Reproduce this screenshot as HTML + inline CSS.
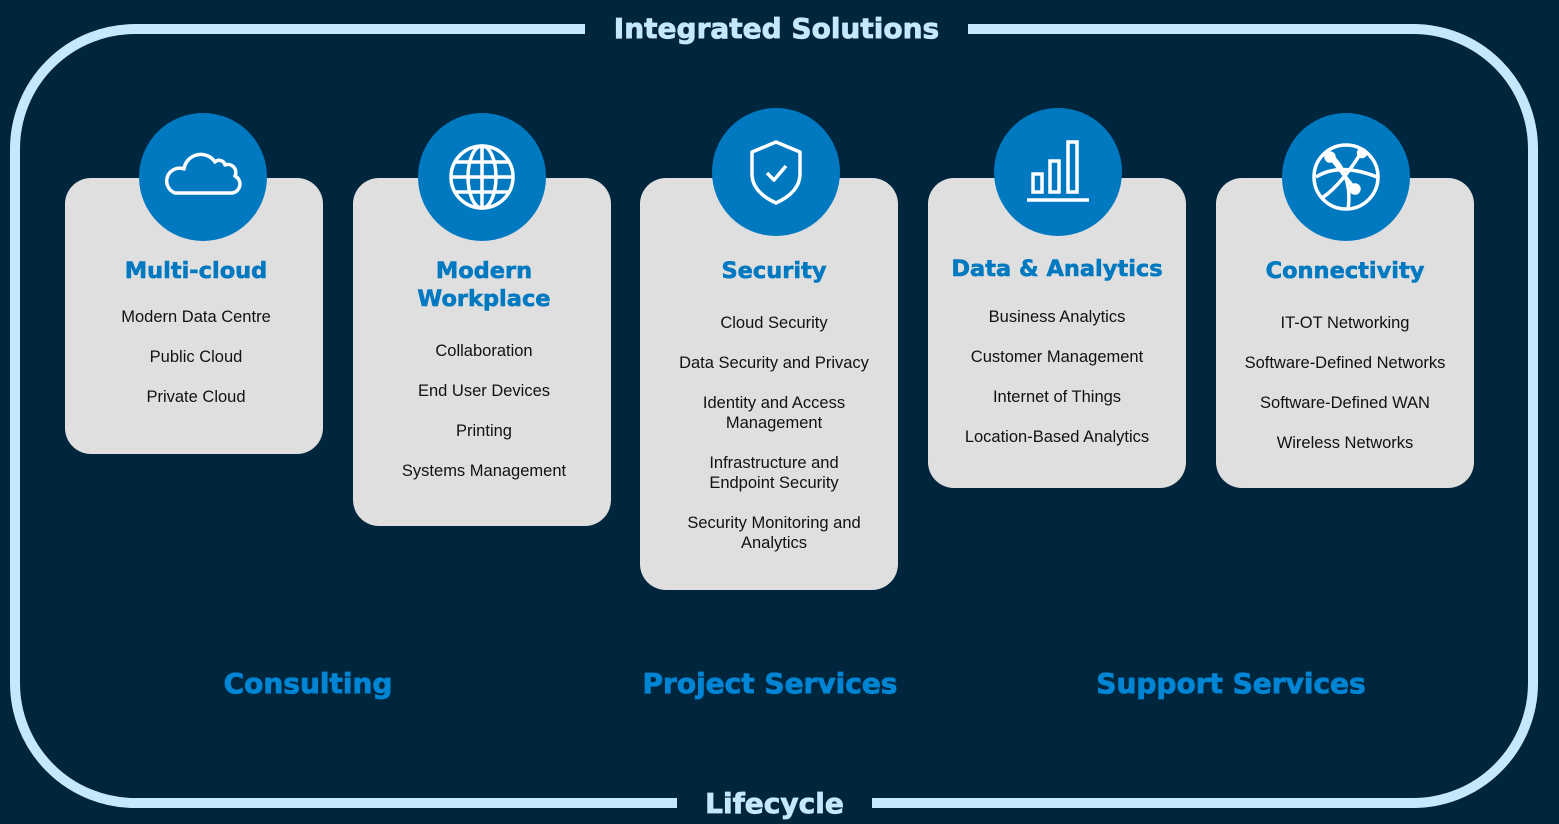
<!DOCTYPE html>
<html><head><meta charset="utf-8"><style>
*{margin:0;padding:0;box-sizing:border-box}
body{width:1559px;height:824px;background:#00263e;position:relative;overflow:hidden;font-family:"Liberation Sans",Arial,sans-serif}
.frame{position:absolute;left:10px;top:24px;width:1528px;height:784px;border:10px solid #c5e8fc;border-radius:125px}
.gap{position:absolute;background:#00263e;height:14px}
.big{position:absolute;font-family:"DejaVu Sans",sans-serif;font-weight:bold;white-space:nowrap;text-align:center;-webkit-text-stroke:0.8px currentColor}
.card{position:absolute;top:178px;width:258px;background:#e0dfe0;border-radius:26px}
.circ{position:absolute;width:128px;height:128px;border-radius:50%;background:#0079c1}
.circ svg{position:absolute;left:0;top:0}
.h{position:absolute;width:258px;text-align:center;font-family:"DejaVu Sans",sans-serif;font-weight:bold;color:#0079c1;font-size:22.5px;line-height:28px;-webkit-text-stroke:0.6px #0079c1}
.t{position:absolute;width:258px;text-align:center;font-size:16.5px;line-height:20px;color:#111}
</style></head><body>
<div class="frame"></div>
<div class="gap" style="left:585px;top:22px;width:383px"></div>
<div class="gap" style="left:677px;top:796px;width:195px"></div>
<div class="big" style="left:585px;top:12px;width:383px;font-size:28px;color:#c5e8fc">Integrated Solutions</div>
<div class="big" style="left:677px;top:787px;width:195px;font-size:28px;color:#c5e8fc">Lifecycle</div>
<div class="big" style="left:158px;top:667px;width:300px;font-size:28px;color:#0085d4">Consulting</div>
<div class="big" style="left:570px;top:667px;width:400px;font-size:28px;color:#0085d4">Project Services</div>
<div class="big" style="left:1031px;top:667px;width:400px;font-size:28px;color:#0085d4">Support Services</div>

<div class="card" style="left:65px;height:276px"></div>
<div class="card" style="left:353px;height:348px"></div>
<div class="card" style="left:640px;height:412px"></div>
<div class="card" style="left:928px;height:310px"></div>
<div class="card" style="left:1216px;height:310px"></div>

<div class="circ" style="left:139px;top:113px"><svg width="128" height="128" viewBox="0 0 128 128" fill="none" stroke="#fff" stroke-width="3.5" stroke-linejoin="round"><path d="M36 80 H93 A9 9 0 0 0 96 63 A8 8 0 0 0 86 52 A6 6 0 0 0 76 49 A17 17 0 0 0 45 56 A10 10 0 0 0 36 80 Z"/></svg></div>
<div class="circ" style="left:418px;top:113px"><svg width="128" height="128" viewBox="0 0 128 128" fill="none" stroke="#fff" stroke-width="3.5"><circle cx="64" cy="64" r="31"/><ellipse cx="64" cy="64" rx="14" ry="31"/><line x1="64" y1="33" x2="64" y2="95"/><line x1="33" y1="64" x2="95" y2="64"/><path d="M37 49 H91 M37 79 H91"/></svg></div>
<div class="circ" style="left:712px;top:108px"><svg width="128" height="128" viewBox="0 0 128 128" fill="none" stroke="#fff" stroke-width="3.5" stroke-linejoin="round"><path d="M64 34 L88 44 V66 C88 80 77 89 64 95 C51 89 40 80 40 66 V44 Z"/><path d="M55 65 L62 72 L74 58"/></svg></div>
<div class="circ" style="left:994px;top:108px"><svg width="128" height="128" viewBox="0 0 128 128" fill="none" stroke="#fff" stroke-width="3.5"><rect x="39" y="66" width="9" height="18"/><rect x="56" y="53" width="9" height="31"/><rect x="74" y="34" width="9" height="50"/><line x1="33" y1="92" x2="95" y2="92"/></svg></div>
<div class="circ" style="left:1282px;top:113px"><svg width="128" height="128" viewBox="0 0 128 128" fill="none" stroke="#fff" stroke-width="3.5"><circle cx="64" cy="64" r="32"/><path d="M46 40 C60 50 70 70 66 96 M34 64 C50 54 70 54 95 64 M80 38 C70 55 55 75 40 85 M48 44 L73 76"/><circle cx="48" cy="44" r="4" fill="#fff"/><circle cx="73" cy="76" r="4" fill="#fff"/><circle cx="80" cy="40" r="3.5" fill="#fff"/></svg></div>

<div class="h" style="left:67px;top:257px">Multi-cloud</div>
<div class="t" style="left:67px;top:307px">Modern Data Centre</div>
<div class="t" style="left:67px;top:347px">Public Cloud</div>
<div class="t" style="left:67px;top:387px">Private Cloud</div>

<div class="h" style="left:355px;top:257px">Modern<br>Workplace</div>
<div class="t" style="left:355px;top:341px">Collaboration</div>
<div class="t" style="left:355px;top:381px">End User Devices</div>
<div class="t" style="left:355px;top:421px">Printing</div>
<div class="t" style="left:355px;top:461px">Systems Management</div>

<div class="h" style="left:645px;top:257px">Security</div>
<div class="t" style="left:645px;top:313px">Cloud Security</div>
<div class="t" style="left:645px;top:353px">Data Security and Privacy</div>
<div class="t" style="left:645px;top:393px">Identity and Access<br>Management</div>
<div class="t" style="left:645px;top:453px">Infrastructure and<br>Endpoint Security</div>
<div class="t" style="left:645px;top:513px">Security Monitoring and<br>Analytics</div>

<div class="h" style="left:928px;top:255px">Data &amp; Analytics</div>
<div class="t" style="left:928px;top:307px">Business Analytics</div>
<div class="t" style="left:928px;top:347px">Customer Management</div>
<div class="t" style="left:928px;top:387px">Internet of Things</div>
<div class="t" style="left:928px;top:427px">Location-Based Analytics</div>

<div class="h" style="left:1216px;top:257px">Connectivity</div>
<div class="t" style="left:1216px;top:313px">IT-OT Networking</div>
<div class="t" style="left:1216px;top:353px">Software-Defined Networks</div>
<div class="t" style="left:1216px;top:393px">Software-Defined WAN</div>
<div class="t" style="left:1216px;top:433px">Wireless Networks</div>
</body></html>
